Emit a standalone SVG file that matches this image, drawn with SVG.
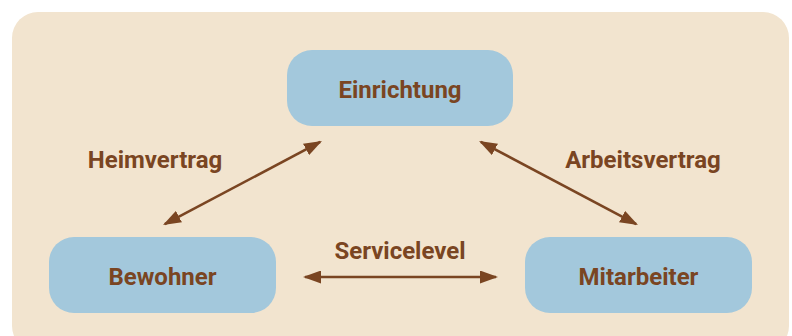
<svg xmlns="http://www.w3.org/2000/svg" width="792" height="336" viewBox="0 0 792 336">
<style>
.node rect{fill:#A3C8DC}
.lbl{font-family:Roboto,"Liberation Sans",sans-serif;font-weight:700;font-size:24px;fill:#7A4522;text-anchor:middle}
.conn line{stroke:#7A4522;stroke-width:2.6;fill:none;marker-start:url(#ah);marker-end:url(#ah)}
</style>
<defs>
<marker id="ah" markerUnits="userSpaceOnUse" viewBox="0 0 18 13" refX="16" refY="6.5" markerWidth="18" markerHeight="13" orient="auto-start-reverse">
<path d="M0,0 L18,6.5 L0,13 z" fill="#7A4522"/>
</marker>
</defs>
<rect x="0" y="0" width="792" height="336" fill="#ffffff"/>
<rect x="12" y="12" width="777" height="340" rx="26" fill="#F2E4CF"/>
<g class="conn" id="connectors">
<line x1="164.8" y1="224.1" x2="320.2" y2="141.9"/>
<line x1="480.8" y1="141.9" x2="636.2" y2="224.1"/>
<line x1="305" y1="277" x2="496" y2="277"/>
</g>
<g id="edge-labels">
<text class="lbl" x="155" y="168">Heimvertrag</text>
<text class="lbl" x="643" y="168">Arbeitsvertrag</text>
<text class="lbl" x="400" y="259">Servicelevel</text>
</g>
<g class="node" id="einrichtung">
<rect x="287" y="50" width="226" height="76" rx="25"/>
<text class="lbl" x="400" y="98">Einrichtung</text>
</g>
<g class="node" id="bewohner">
<rect x="49" y="237" width="227" height="76" rx="25"/>
<text class="lbl" x="162.5" y="285">Bewohner</text>
</g>
<g class="node" id="mitarbeiter">
<rect x="525" y="237" width="227" height="76" rx="25"/>
<text class="lbl" x="638.5" y="285">Mitarbeiter</text>
</g>
</svg>
